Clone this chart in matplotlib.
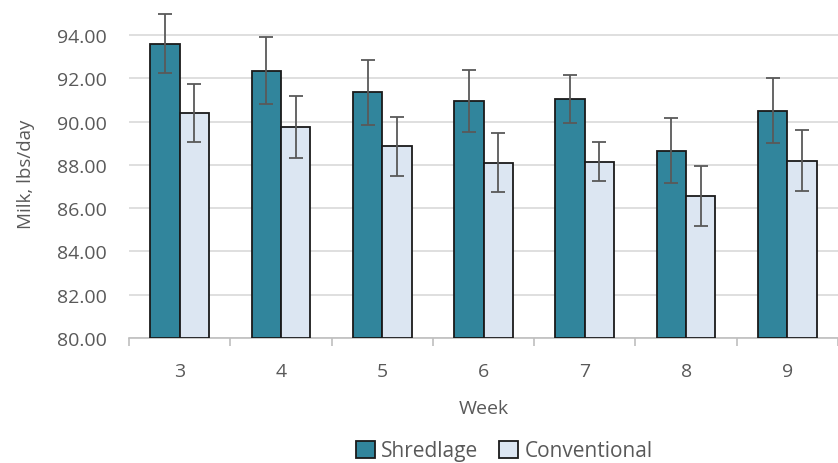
import matplotlib.pyplot as plt
import numpy as np

weeks = ['3', '4', '5', '6', '7', '8', '9']
shredlage = [93.60, 92.35, 91.35, 90.95, 91.05, 88.65, 90.50]
shred_err = [1.36, 1.55, 1.50, 1.45, 1.10, 1.50, 1.50]
conventional = [90.40, 89.75, 88.85, 88.10, 88.15, 86.55, 88.20]
conv_err = [1.35, 1.45, 1.35, 1.37, 0.90, 1.38, 1.40]

plt.rcParams['font.family'] = ['Open Sans', 'DejaVu Sans']
grey = '#595959'

fig = plt.figure(figsize=(8.38, 4.64), dpi=100)
ax = fig.add_axes([0.154, 0.2694, 0.846, 0.709])

x = np.arange(len(weeks))
w = 0.29
err_kw = dict(ecolor=grey, elinewidth=1.3, capsize=5, capthick=1.3)
ax.bar(x - w / 2, [v - 80 for v in shredlage], w, bottom=80, color='#31859C',
       edgecolor='#1a1a1a', linewidth=1.3, yerr=shred_err, error_kw=err_kw,
       label='Shredlage', zorder=3)
ax.bar(x + w / 2, [v - 80 for v in conventional], w, bottom=80, color='#DCE6F2',
       edgecolor='#1a1a1a', linewidth=1.3, yerr=conv_err, error_kw=err_kw,
       label='Conventional', zorder=3)

ax.set_ylim(80, 95.2)
ax.set_xlim(-0.5, len(weeks) - 0.5)
ax.set_yticks(np.arange(80, 95, 2))
ax.set_yticklabels(['%.2f' % v for v in np.arange(80, 95, 2)])
ax.yaxis.grid(True, color='#D9D9D9', linewidth=1.2, zorder=0)
ax.set_axisbelow(True)

ax.set_xticks(x)
ax.set_xticklabels(weeks)
ax.set_xticks(np.arange(-0.5, len(weeks), 1), minor=True)
ax.tick_params(axis='x', which='major', length=0, pad=17, labelsize=14, labelcolor=grey)
ax.tick_params(axis='x', which='minor', length=6, color='#BFBFBF', width=1.2)
ax.tick_params(axis='y', length=0, pad=16, labelsize=14, labelcolor=grey)

for s in ['top', 'right', 'left']:
    ax.spines[s].set_visible(False)
ax.spines['bottom'].set_color('#BFBFBF')
ax.spines['bottom'].set_linewidth(1.2)

ax.set_ylabel('Milk, lbs/day', fontsize=13.5, color=grey, labelpad=16)
ax.set_xlabel('Week', fontsize=14, color=grey, labelpad=14)

leg = fig.legend(loc='lower center', bbox_to_anchor=(0.602, -0.037), ncol=2, frameon=False,
                 fontsize=15, handlelength=0.9, handleheight=0.9, handletextpad=0.3,
                 columnspacing=1.0)
for t in leg.get_texts():
    t.set_color(grey)

fig.savefig('out.png', dpi=100)
